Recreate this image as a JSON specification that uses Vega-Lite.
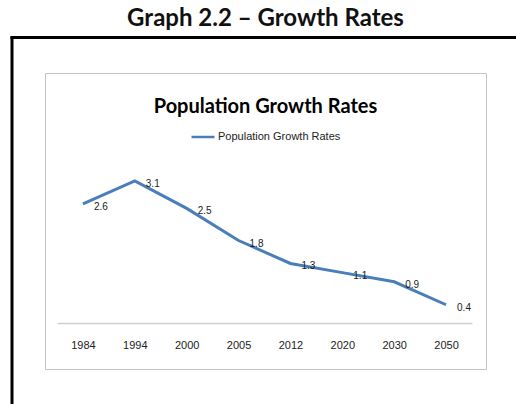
{
  "$schema": "https://vega.github.io/schema/vega-lite/v6.json",
  "usermeta": {"embedOptions": {"actions": false}},
  "width": 441,
  "height": 296,
  "autosize": {"type": "none"},
  "padding": {"left": 45, "top": 73, "right": 30, "bottom": 35},
  "background": "white",
  "config": {"view": {"stroke": "#c4c4c4", "strokeWidth": 1}},
  "title": {
    "text": "Graph 2.2 – Growth Rates",
    "subtitle": "Population Growth Rates",
    "anchor": "middle",
    "frame": "group",
    "font": "Lato",
    "fontSize": 24,
    "fontWeight": "bold",
    "color": "#111111",
    "subtitleFont": "Lato",
    "subtitleFontSize": 20,
    "subtitleFontWeight": "bold",
    "subtitleColor": "#000000",
    "subtitlePadding": 66,
    "offset": -80
  },
  "data": {
    "values": [
      {"year": "1984", "rate": 2.6, "series": "Population Growth Rates"},
      {"year": "1994", "rate": 3.1, "series": "Population Growth Rates"},
      {"year": "2000", "rate": 2.5, "series": "Population Growth Rates"},
      {"year": "2005", "rate": 1.8, "series": "Population Growth Rates"},
      {"year": "2012", "rate": 1.3, "series": "Population Growth Rates"},
      {"year": "2020", "rate": 1.1, "series": "Population Growth Rates"},
      {"year": "2030", "rate": 0.9, "series": "Population Growth Rates"},
      {"year": "2050", "rate": 0.4, "series": "Population Growth Rates"}
    ]
  },
  "layer": [
    {
      "encoding": {
        "x": {
          "field": "year",
          "type": "ordinal",
          "sort": null,
          "scale": {"range": [12, 427], "paddingInner": 0, "paddingOuter": 0},
          "axis": {
            "orient": "bottom",
            "offset": -46,
            "domainColor": "#d0d0d0",
            "domainWidth": 1.5,
            "ticks": false,
            "grid": false,
            "labelAngle": 0,
            "labelPadding": 16,
            "labelFont": "Liberation Sans",
            "labelFontSize": 11,
            "labelColor": "#222222",
            "title": null
          }
        },
        "y": {
          "field": "rate",
          "type": "quantitative",
          "scale": {"domain": [-1, 5.45], "nice": false, "zero": false},
          "axis": null
        }
      },
      "layer": [
        {
          "mark": {"type": "line", "strokeWidth": 3},
          "encoding": {
            "color": {
              "field": "series",
              "type": "nominal",
              "scale": {"range": ["#4a7ebb"]},
              "legend": {
                "orient": "none",
                "legendX": 145,
                "legendY": 51,
                "title": null,
                "symbolType": "stroke",
                "symbolSize": 529,
                "symbolStrokeWidth": 2.5,
                "labelFont": "Liberation Sans",
                "labelFontSize": 11,
                "labelColor": "#222222",
                "labelOffset": 2
              }
            }
          }
        },
        {
          "mark": {
            "type": "text",
            "align": "left",
            "baseline": "middle",
            "dx": 11,
            "dy": 3,
            "font": "Liberation Sans",
            "fontSize": 10,
            "color": "#1a1a1a"
          },
          "encoding": {
            "text": {"field": "rate", "type": "quantitative", "format": ".1f"}
          }
        }
      ]
    },
    {
      "mark": {"type": "point", "opacity": 0},
      "encoding": {
        "x": {
          "datum": 0,
          "type": "quantitative",
          "scale": {"domain": [0, 1], "range": [-35, 490]},
          "axis": {
            "orient": "top",
            "offset": 36,
            "domainColor": "#000000",
            "domainWidth": 3,
            "ticks": false,
            "labels": false,
            "grid": false,
            "title": null
          }
        },
        "y": {
          "datum": 0,
          "type": "quantitative",
          "scale": {"domain": [0, 1], "range": [340, -37]},
          "axis": {
            "orient": "left",
            "offset": 33.5,
            "domainColor": "#000000",
            "domainWidth": 3,
            "ticks": false,
            "labels": false,
            "grid": false,
            "title": null
          }
        }
      }
    }
  ],
  "resolve": {
    "scale": {"x": "independent", "y": "independent"},
    "axis": {"x": "independent", "y": "independent"}
  }
}
